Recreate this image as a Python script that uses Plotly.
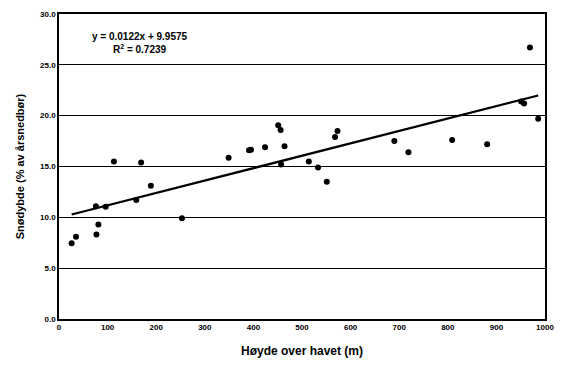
import plotly.graph_objects as go

hoyde = [26, 35, 76, 96, 77, 81, 113, 169, 159, 189, 253,
         349, 391, 395, 424, 451, 456, 464, 457, 514, 533, 551, 568, 573,
         690, 719, 809, 881, 951, 957, 986, 969]
snodybde = [7.45, 8.1, 11.1, 11.05, 8.3, 9.3, 15.5, 15.4, 11.7, 13.1, 9.9,
            15.85, 16.6, 16.65, 16.9, 19.05, 18.6, 17.0, 15.2, 15.5, 14.9, 13.5, 17.9, 18.5,
            17.5, 16.4, 17.6, 17.2, 21.4, 21.2, 19.7, 26.7]
slope = 0.0122
intercept = 9.9575
trend_x = [min(hoyde), max(hoyde)]
trend_y = [slope * v + intercept for v in trend_x]
x_ticks = list(range(0, 1001, 100))
y_ticks = [0, 5, 10, 15, 20, 25, 30]

font = "Liberation Sans, Arial, sans-serif"

fig = go.Figure()
fig.add_trace(go.Scatter(x=trend_x, y=trend_y, mode="lines",
                         line=dict(color="black", width=2.2), hoverinfo="skip"))
fig.add_trace(go.Scatter(x=hoyde, y=snodybde, mode="markers",
                         marker=dict(color="black", size=6, symbol="circle")))

fig.update_layout(
    width=564, height=366,
    margin=dict(l=59, r=16, t=10, b=47),
    paper_bgcolor="white", plot_bgcolor="white",
    showlegend=False,
    font=dict(family=font, color="black"),
    xaxis=dict(range=[0, 1000], tickvals=x_ticks, ticktext=[str(v) for v in x_ticks],
               showgrid=False, zeroline=False, showline=True, linecolor="black",
               linewidth=1.5, mirror=True, ticks="", tickfont=dict(size=8, family=font, weight="bold"),
               title=dict(text="<b>Høyde over havet (m)</b>", font=dict(size=12), standoff=15)),
    yaxis=dict(range=[0, 30], tickvals=y_ticks, ticktext=[f"{v:.1f}" for v in y_ticks],
               showgrid=True, gridcolor="black", gridwidth=1, zeroline=False,
               showline=True, linecolor="black", linewidth=1.5, mirror=True, ticks="",
               tickfont=dict(size=8, family=font, weight="bold"),
               title=dict(text="<b>Snødybde (% av årsnedbør)</b>", font=dict(size=11), standoff=13)),
)
fig.add_annotation(x=0.166, y=0.905, xref="paper", yref="paper",
                   xanchor="center", yanchor="middle",
                   text="<b>y = 0.0122x + 9.9575</b><br><b>R<sup>2</sup> = 0.7239</b>",
                   showarrow=False, font=dict(size=10, family=font), align="center")

fig.write_html("out.html")
